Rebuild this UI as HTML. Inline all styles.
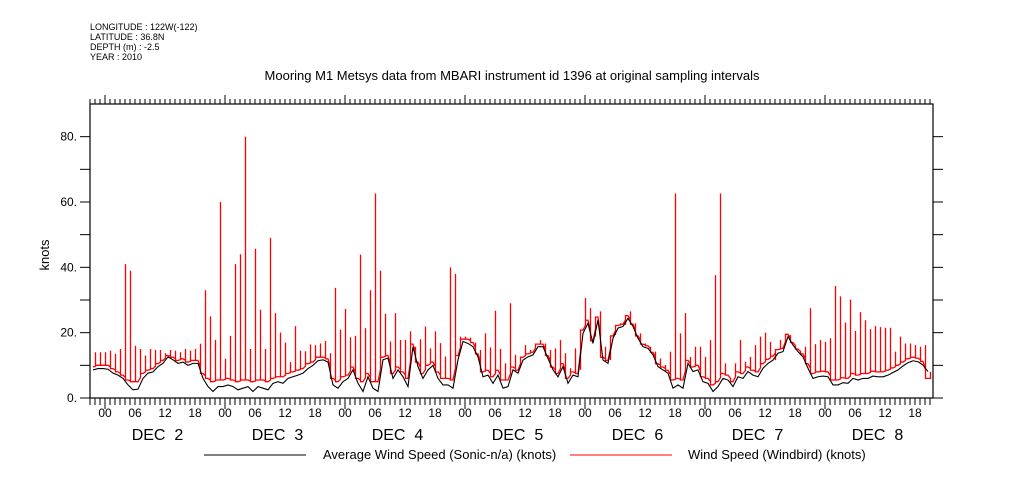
<!DOCTYPE html>
<html><head><meta charset="utf-8"><style>
html,body{margin:0;padding:0;background:#fff;width:1009px;height:504px;overflow:hidden}
svg{display:block}
text{font-family:"Liberation Sans",sans-serif;fill:#000}
</style></head><body>
<svg id="chart" width="1009" height="504" viewBox="0 0 1009 504" xmlns="http://www.w3.org/2000/svg">
<g font-size="9">
<text x="90" y="30">LONGITUDE : 122W(-122)</text>
<text x="90" y="40">LATITUDE : 36.8N</text>
<text x="90" y="50">DEPTH (m) : -2.5</text>
<text x="90" y="60">YEAR : 2010</text>
</g>
<text x="512" y="80" text-anchor="middle" font-size="13">Mooring M1 Metsys data from MBARI instrument id 1396 at original sampling intervals</text>
<text transform="translate(49,255) rotate(-90)" text-anchor="middle" font-size="13">knots</text>
<g id="axes"></g>
<g id="series"></g>
<g font-size="13">
<line x1="204" y1="455" x2="306" y2="455" stroke="#000" stroke-width="1"/>
<text x="323" y="459">Average Wind Speed (Sonic-n/a) (knots)</text>
<line x1="570" y1="455" x2="672" y2="455" stroke="#f00" stroke-width="1"/>
<text x="688" y="459">Wind Speed (Windbird) (knots)</text>
</g>
</svg>
<script>
// hourly samples starting Dec 1 21:00
const avgSpeed = [
8.6,9,9,8.8,7.6,7,6,4,2.5,2.7,6,7.6,8,9.6,10.6,12.6,11.7,10.6,11,10,10.6,10.6,6,3.5,2,3.5,3.5,4,3.5,2.5,3,3.5,2,3.5,3,2.5,4.5,5,4.5,6,6.5,7,
7.6,9,10,11.4,11.7,11,4,3,5,6,8.6,4.5,2,6.5,3,2,11.7,12.2,6,8.6,6.5,3.5,15.7,9.6,6,8.6,10,6,4,4,3,11.7,17.3,16.7,15.7,12.6,6.5,7,4.5,7,3,3.5,
8.6,7.6,11.6,12.6,13.2,15.7,15.7,12.1,8.6,6.5,9.6,4.5,7,6.5,19.8,22.9,16.7,23.9,11.6,10.6,18.3,21.4,21.9,24.4,21.9,18.3,15.7,15.2,13.2,9.6,8.6,7.6,3,4,3,10.6,8.1,8.6,5,4.5,2,3.5,
6,5.5,3.5,6.5,6,8.1,7,6.5,9.1,10.6,11.6,13.7,14.2,18.8,16.2,14.2,12.6,9.1,6,6.5,6.7,6.5,4,4,4.7,4.5,6,5.5,6,6,6.7,6.5,6.5,7,7.8,8.6,9.8,10.8,11.4,11.1,10.1,8.1];
const windbirdBase = [
9.5,10,10,10,9,8,7,5.5,5,5,7.5,8.5,9,10.5,11.5,13,12.5,11.5,12,11,11.5,11.5,7.5,6,5,5.5,5.5,6,5.5,5,5.5,5.5,5,5.5,5.5,5,6,6.5,6.5,7.5,8,8.5,
9,10.5,11,12.5,12.5,12,6,5,6.5,7,9.5,6,5,7.5,5,5,12.5,13,7.5,9.5,8,6,16.5,11,7.5,10,11,8,6,6,5.5,13,18,18,17,13.5,8,8.5,6.5,8.5,5.5,5.5,
9.5,8.5,12.5,13.5,14,16.5,16.5,13,9.5,7.5,10.5,6,8,7.5,20.8,23.8,17.5,24.8,12.5,11.5,19,22.2,22.6,25.2,22.6,19,16.5,16,14,10.5,9.5,8.5,5.5,6,5.5,11.5,9.5,10,6.5,6,4,5,
7.5,7,5,8,7.5,9.5,8.5,8,10.5,11.8,12.8,14.8,15.2,19.5,17,15,13.5,10.5,7.5,8,8.2,8,5.5,5.5,6.2,6,7.5,7,7.5,7.5,8.2,8,8,8.5,9.2,10,11,12,12.5,12.2,11.2,6];
const windbirdPeak = [
14,14,14,14.5,13.5,15,41,39,16,15,13,15,14.7,14.7,13.7,14.7,14.5,14,15,14.5,15,16.6,33,25,17.8,60,12,19,41,44,80,15,45.7,27,15,49,26,20,17,11,22,14.5,
14.3,16.4,16.2,16.7,17.5,13.7,33.7,20.9,27.3,18.6,19,43.9,21.4,33,62.6,39,25.8,17.3,26,17.8,17.8,20.4,15.7,18,21.9,15.2,20.4,16.8,12.7,40,38,18.8,18.8,18.5,17,14.7,19.8,15.5,26.7,15,10.6,29,
13.2,11.6,16.2,14.7,15.2,17.7,16.7,14.7,15.2,17.7,13.7,9.1,15.2,8.6,30.6,27.5,18.8,26.5,15.7,11.6,19.3,22.9,22.4,26.5,22.9,19.8,16.7,15.7,14.2,12.1,10.1,14.2,62.6,19.8,26,12.6,15.7,15.7,12.6,17.7,37.6,62.6,
10.6,6,10.6,17.7,11.1,12.6,16.2,18.8,20,17.2,11.6,17.7,18.8,19.3,15.2,13.7,15.7,27.5,16.5,17.7,17.2,18.3,34.3,31.1,23.1,30.1,20.5,26.3,23.8,21.1,22,21.7,21.5,21.5,14.2,18.8,16.7,16.7,16.2,15.7,16.2,8];
const yTicks = [0,10,20,30,40,50,60,70,80];
const yTickLabels = ["0.","","20.","","40.","","60.","","80."];
const hourLabels = ["00","06","12","18"];
const dayLabels = ["DEC  2","DEC  3","DEC  4","DEC  5","DEC  6","DEC  7","DEC  8"];

const L=90,R=933,T=104,B=398, Y0=0,Y1=90;
const startHour=-3;
const x = h => L + (h - startHour) * 5;
const y = v => B - (v - Y0) / (Y1 - Y0) * (B - T);
const NS="http://www.w3.org/2000/svg";
function mk(tag, attrs, parent){const e=document.createElementNS(NS,tag);for(const k in attrs)e.setAttribute(k,attrs[k]);parent.appendChild(e);return e;}
const axes=document.getElementById('axes'), series=document.getElementById('series');

const frame=mk('rect',{x:L,y:T,width:R-L,height:B-T,fill:'none',stroke:'#000','stroke-width':1.2},axes);



yTicks.forEach((v,i)=>{
  const yy=y(v);
  const t1=mk('line',{x1:L-10,x2:L,y1:yy,y2:yy,stroke:'#000'},axes);
  
  
  const t2=mk('line',{x1:R,x2:R+10,y1:yy,y2:yy,stroke:'#000'},axes);
  
  
  if(yTickLabels[i]){
    const tx=mk('text',{x:L-13,y:yy+4,'text-anchor':'end','font-size':12},axes);
    tx.textContent=yTickLabels[i];
    
    
  }
});

for(let h=Math.ceil(startHour); x(h)<=R; h++){
  const xx=x(h), major=(((h%24)+24)%24===0);
  const b=mk('line',{x1:xx,x2:xx,y1:B,y2:B+(major?11:7),stroke:'#000'},axes);
  
  
  const t=mk('line',{x1:xx,x2:xx,y1:T,y2:T-(major?9:5),stroke:'#000'},axes);
  
  
  const hh=((h%24)+24)%24;
  if(hh%6===0 && h>=0){
    const tx=mk('text',{x:xx,y:B+19,'text-anchor':'middle','font-size':12},axes);
    tx.textContent=hourLabels[hh/6];
    
    
  }
}
dayLabels.forEach((d,i)=>{
  const tx=mk('text',{x:x(i*24+10.5),y:B+42,'text-anchor':'middle','font-size':16},axes);
  tx.textContent=d;
  tx.style.whiteSpace='pre';
  
  
});

const th = i => startHour + 0.6 + i;
let dR='M'+x(th(0))+','+y(windbirdBase[0]);
for(let i=0;i<windbirdBase.length;i++){
  const xm=x(th(i)+0.5), nb= i+1<windbirdBase.length?windbirdBase[i+1]:windbirdBase[i];
  dR+=' L'+xm+','+y((windbirdBase[i]+nb)/2)+' L'+xm+','+y(windbirdPeak[i])+' L'+xm+','+y(nb);
  if(i+1<windbirdBase.length) dR+=' L'+x(th(i+1))+','+y(nb);
}
const red=mk('path',{d:dR,fill:'none',stroke:'#f00','stroke-width':1.3},series);



let dB='';
avgSpeed.forEach((v,i)=>{dB+=(i?' L':'M')+x(th(i))+','+y(v);});
const blk=mk('path',{d:dB,fill:'none',stroke:'#000','stroke-width':1.1},series);


</script>
</body></html>
